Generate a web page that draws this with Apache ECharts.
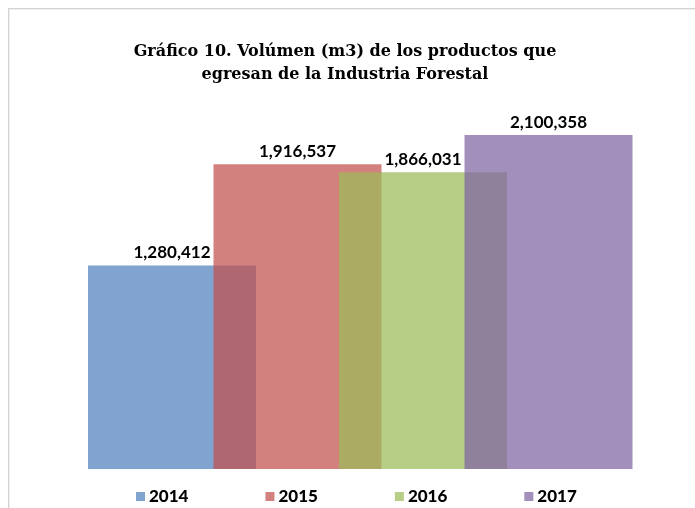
<!DOCTYPE html>
<html>
<head>
<meta charset="utf-8">
<script src="https://cdn.jsdelivr.net/npm/echarts@6/dist/echarts.min.js"></script>
<style>
  html, body { margin: 0; padding: 0; background: #fff; }
  .wrap { position: relative; width: 695px; height: 508px; overflow: hidden; }
  .frame {
    position: absolute; left: 8px; top: 8px; width: 720px; height: 540px;
    border-top: 1px solid #d4d4d4; border-left: 1px solid #d4d4d4;
    box-shadow: inset 1px 1px 0 #efefef;
  }
  .chart { position: absolute; left: 0; top: 0; width: 695px; height: 508px; }
</style>
</head>
<body>
<div class="wrap">
  <div class="frame"></div>
  <div class="chart" id="main"></div>
</div>
<script>
// datos del gráfico
const years = ['2014', '2015', '2016', '2017']
const volumes = [1280412, 1916537, 1866031, 2100358]
const colors = ['#4F81BD', '#C0504D', '#9BBB59', '#8064A2']

const titleText = 'Gráfico 10. Volúmen (m3) de los productos que\negresan de la Industria Forestal'

const fmt = v => v.toString().replace(/\B(?=(\d{3})+(?!\d))/g, ',')

const myChart = echarts.init(document.getElementById('main'))

// una serie por año, cada una solo en su categoría
const series = years.map((y, i) => ({
  name: y,
  type: 'bar',
  data: years.map((_, j) => (j === i ? volumes[i] : '-')),
  barWidth: 168,
  barGap: '-100%',
  clip: false,
  itemStyle: { color: colors[i], opacity: 0.72 },
  label: {
    show: true,
    position: 'top',
    distance: 4,
    formatter: p => fmt(p.value),
    color: '#000',
    opacity: 1,
    fontFamily: 'Lato',
    fontWeight: 'bold',
    fontSize: 17
  }
}))

const option = {
  animation: false,
  title: {
    text: titleText,
    left: 340,
    textAlign: 'center',
    top: 35,
    textStyle: {
      fontFamily: 'DejaVu Serif',
      fontWeight: 'bold',
      fontSize: 16,
      lineHeight: 23,
      color: '#000'
    }
  },
  legend: {
    data: years.map((y, i) => ({ name: y, itemStyle: { color: colors[i], opacity: 0.72 } })),
    left: 131,
    top: 483,
    icon: 'rect',
    itemWidth: 9,
    itemHeight: 9,
    itemGap: 77,
    textStyle: {
      fontFamily: 'Lato',
      fontWeight: 900,
      fontSize: 17,
      color: '#000',
      padding: [0, 0, 0, -1]
    }
  },
  grid: {
    left: 109.25,
    right: 83.75,
    top: 87.35,
    bottom: 39
  },
  xAxis: {
    type: 'category',
    data: years,
    show: false
  },
  yAxis: {
    type: 'value',
    min: 0,
    max: 2400000,
    show: false,
    splitLine: { show: false }
  },
  series: series
}

myChart.setOption(option)
</script>
</body>
</html>
